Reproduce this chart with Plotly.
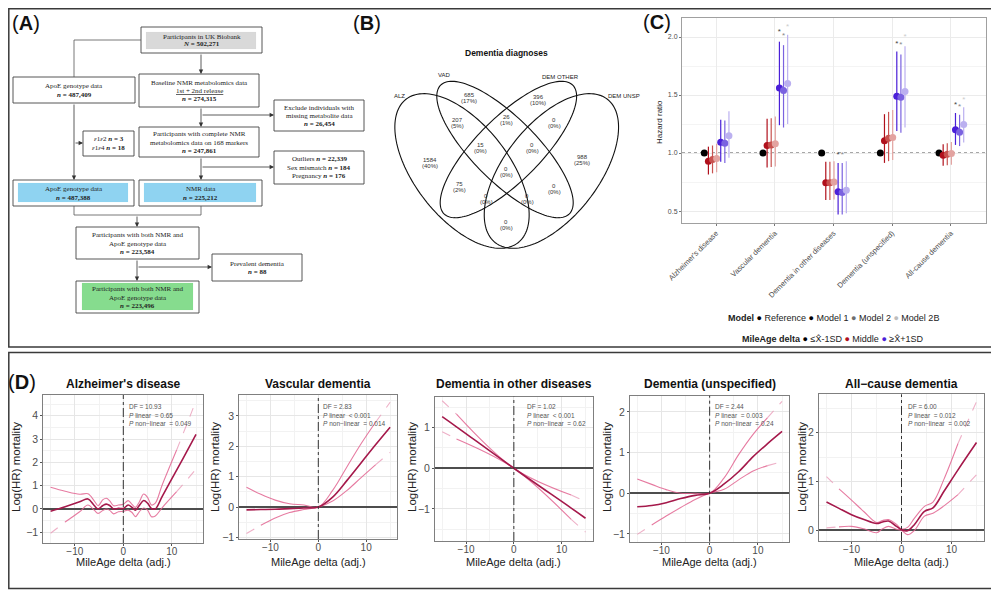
import numpy as np
import plotly.graph_objects as go

W, H = 999, 590

# ======================= DATA =======================
# ---- Panel A: flowchart ----
flow_labels = [
    ["Participants in UK Biobank"],
    ["ApoE genotype data"],
    ["Baseline NMR metabolomics data", "<u>1st + 2nd release</u>"],
    ["Exclude individuals with", "missing metabolite data"],
    ["Participants with complete NMR", "metabolomics data on 168 markers"],
    ["ApoE genotype data"],
    ["NMR data"],
    ["Participants with both NMR and", "ApoE genotype data"],
    ["Prevalent dementia"],
    ["Participants with both NMR and", "ApoE genotype data"],
]
flow_counts = ["502,271", "487,409", "274,315", "26,454", "247,861",
               "487,388", "225,212", "223,584", "88", "223,496"]
apoe_excl_labels = ["<i>ε</i>1<i>ε</i>2", "<i>ε</i>1<i>ε</i>4"]
apoe_excl_counts = ["3", "18"]
qc_labels = ["Outliers", "Sex mismatch", "Pregnancy"]
qc_counts = ["22,339", "184", "176"]

# ---- Panel B: Venn ----
venn_title = "Dementia diagnoses"
venn_sets = ["ALZ", "VAD", "DEM OTHER", "DEM UNSP"]
venn_counts = [685, 396, 207, 26, 0, 1584, 15, 0, 988, 0, 75, 0, 0, 0, 0]
venn_pct = ["17%", "10%", "5%", "1%", "0%", "40%", "0%", "0%", "25%", "0%",
            "2%", "0%", "0%", "0%", "0%"]

# ---- Panel C: hazard ratios ----
outcomes = ["Alzheimer's disease", "Vascular dementia", "Dementia in other diseases",
            "Dementia (unspecified)", "All-cause dementia"]
ref_hr = [1.0, 1.0, 1.0, 1.0, 1.0]
mid_hr_m1 = [0.93, 1.065, 0.745, 1.107, 0.98]
mid_lo_m1 = [0.815, 0.875, 0.595, 0.915, 0.89]
mid_hi_m1 = [1.055, 1.295, 0.925, 1.335, 1.075]
mid_hr_m2 = [0.944, 1.07, 0.745, 1.127, 0.99]
mid_lo_m2 = [0.825, 0.88, 0.595, 0.93, 0.895]
mid_hi_m2 = [1.065, 1.30, 0.925, 1.355, 1.085]
mid_hr_m2b = [0.952, 1.08, 0.75, 1.135, 0.995]
mid_lo_m2b = [0.835, 0.885, 0.60, 0.94, 0.90]
mid_hi_m2b = [1.08, 1.315, 0.93, 1.37, 1.095]
high_hr_m1 = [1.093, 1.56, 0.667, 1.49, 1.20]
high_lo_m1 = [0.924, 1.24, 0.47, 1.19, 1.07]
high_hi_m1 = [1.288, 1.96, 0.915, 1.876, 1.345]
high_hr_m2 = [1.085, 1.54, 0.66, 1.48, 1.18]
high_lo_m2 = [0.915, 1.22, 0.47, 1.175, 1.06]
high_hi_m2 = [1.28, 1.93, 0.915, 1.85, 1.33]
high_hr_m2b = [1.15, 1.60, 0.68, 1.53, 1.245]
high_lo_m2b = [0.96, 1.25, 0.48, 1.22, 1.09]
high_hi_m2b = [1.36, 2.02, 0.93, 1.92, 1.395]
high_star_m1 = [None, 2.04, 0.985, 1.94, 1.415]
high_star_m2 = [None, 2.01, 0.985, 1.93, 1.40]
high_star_m2b = [None, 2.09, None, 2.00, 1.46]

# ---- Panel D: spline curves (log HR vs MileAge delta) ----
alz_x = [-15, -12, -9, -7.3, -6, -5.2, -4.2, -3.5, -2.8, -2, -1, 0, 1, 1.8, 2.5, 3.3, 4.2, 5, 5.8, 6.6, 8, 11, 13, 15]
alz_mean = [-0.1, 0.1, 0.31, 0.43, 0.15, 0.0, 0.15, 0.21, 0.15, 0.0, 0.03, 0.02, 0.17, 0.07, -0.05, 0.15, 0.36, 0.25, 0.02, 0.0, 0.53, 1.67, 2.43, 3.2]
alz_upper = [0.93, 0.76, 0.63, 0.65, 0.35, 0.14, 0.4, 0.46, 0.35, 0.14, 0.17, 0.2, 0.36, 0.2, 0.07, 0.3, 0.64, 0.5, 0.17, 0.25, 1.02, 2.53, 3.58, 4.64]
alz_lower = [-1.04, -0.56, -0.12, 0.17, -0.05, -0.19, -0.06, 0.0, -0.06, -0.21, -0.12, -0.1, -0.05, -0.15, -0.33, -0.12, 0.04, -0.05, -0.33, -0.3, 0.05, 0.74, 1.22, 1.71]

vad_x = [-15, -12, -9, -6, -3, 0, 3, 6, 9, 12, 15]
vad_mean = [-0.09, -0.08, -0.07, -0.05, -0.03, 0.0, 0.33, 0.88, 1.47, 2.06, 2.63]
vad_upper = [0.65, 0.42, 0.23, 0.11, 0.07, 0.0, 0.55, 1.33, 2.10, 2.80, 3.45]
vad_lower = [-0.87, -0.60, -0.36, -0.18, -0.08, 0.0, 0.20, 0.55, 0.98, 1.40, 1.80]

oth_x = [-15, -12, 0, 12, 15]
oth_mean = [1.27, 1.02, 0.0, -0.98, -1.23]
oth_upper = [1.66, 1.33, 0.0, -0.66, -0.82]
oth_lower = [0.90, 0.72, 0.0, -1.26, -1.57]

uns_x = [-15, -12, -9, -6, -3, 0, 3, 6, 9, 12, 15]
uns_mean = [-0.33, -0.30, -0.23, -0.13, -0.05, 0.0, 0.23, 0.53, 0.90, 1.22, 1.52]
uns_upper = [0.35, 0.22, 0.09, 0.0, 0.0, 0.0, 0.38, 0.95, 1.45, 1.86, 2.26]
uns_lower = [-1.01, -0.78, -0.56, -0.35, -0.15, 0.0, 0.10, 0.33, 0.55, 0.68, 0.78]

all_x = [-15, -12.5, -10, -7.5, -5, -3.8, -2.6, -1, 0, 1.2, 2.6, 4.6, 6.3, 8.5, 11.3, 15]
all_mean = [0.58, 0.45, 0.32, 0.22, 0.14, 0.17, 0.19, 0.08, 0.01, -0.01, 0.12, 0.39, 0.46, 0.80, 1.24, 1.80]
all_upper = [1.10, 0.85, 0.62, 0.38, 0.16, 0.20, 0.22, 0.12, 0.03, 0.06, 0.25, 0.49, 0.58, 1.05, 1.78, 2.64]
all_lower = [0.05, 0.07, 0.08, 0.03, -0.05, 0.03, 0.08, 0.02, 0.0, -0.09, 0.0, 0.29, 0.35, 0.50, 0.73, 1.14]

d_titles = ["Alzheimer's disease", "Vascular dementia", "Dementia in other diseases",
            "Dementia (unspecified)", "All\u2212cause dementia"]
d_df = ["10.93", "2.83", "1.02", "2.44", "6.00"]
d_plin = ["= 0.65", "< 0.001", "< 0.001", "= 0.003", "= 0.012"]
d_pnl = ["= 0.049", "= 0.014", "= 0.62", "= 0.24", "= 0.002"]
d_xticks = [-10, 0, 10]

# ======================= HELPERS =======================
# the page body adds an 8px offset, so positions are planned in screen pixels
OFF = 8.0


def px(x):
    return (x - OFF) / W


def py(y):
    return 1 - (y - OFF) / H


SANS = "Liberation Sans, Arial, sans-serif"
SERIF = "Liberation Serif, Times New Roman, serif"

fig = go.Figure()
shapes = []
annotations = []


def note(text, x, y, size, color="#222", family=SANS, xanchor="center", yanchor="middle", angle=0):
    annotations.append(dict(x=px(x), y=py(y), xref="paper", yref="paper", text=text,
                            showarrow=False, xanchor=xanchor, yanchor=yanchor, textangle=angle,
                            font=dict(size=size, family=family, color=color)))


def text_lines(lines, cx, cy, size, lh, family=SANS, color="#222", xanchor="center"):
    n = len(lines)
    for i, t in enumerate(lines):
        note(t, cx, cy + (i - (n - 1) / 2) * lh, size, color=color, family=family, xanchor=xanchor)


def rect(x0, y0, x1, y1, line="#333", width=1, fill="rgba(0,0,0,0)"):
    shapes.append(dict(type="rect", xref="paper", yref="paper",
                       x0=px(x0), x1=px(x1), y0=py(y1), y1=py(y0),
                       line=dict(color=line, width=width), fillcolor=fill, layer="below"))


def seg(x0, y0, x1, y1, color="#555", width=0.8):
    shapes.append(dict(type="line", xref="paper", yref="paper",
                       x0=px(x0), x1=px(x1), y0=py(y0), y1=py(y1),
                       line=dict(color=color, width=width)))


def arrow(x0, y0, x1, y1):
    annotations.append(dict(x=px(x1), y=py(y1), xref="paper", yref="paper",
                            ax=x0 - x1, ay=y0 - y1, axref="pixel", ayref="pixel",
                            text="", showarrow=True, arrowhead=2, arrowsize=1.1,
                            arrowwidth=0.8, arrowcolor="#333", standoff=0))


# ======================= FRAMES & PANEL LABELS =======================
EDGE = OFF + 0.8
rect(EDGE, EDGE, 997.5, 347, line="#3a3a3a", width=1.5)
rect(EDGE, 352.5, 997.5, 588.5, line="#3a3a3a", width=1.5)
for lab, (lx, ly) in zip(["A", "B", "C", "D"], [(26, 23), (367, 23), (657, 22), (22, 382)]):
    note("(<b>%s</b>)" % lab, lx, ly, 20, color="#111")

# ======================= PANEL A =======================
flow_boxes = [(141, 27, 262, 53), (13, 77, 135, 103), (139, 74, 259, 107), (274, 100, 364, 131),
              (139, 127, 259, 157), (13, 180, 134, 206), (139, 180, 262, 206), (76, 227, 199, 259),
              (212, 254, 302, 281), (76, 281, 199, 313)]
flow_inner = {0: ((146, 32, 256, 49), "#d9d9d9"), 5: ((18, 183, 128, 202), "#8fd3f1"),
              6: ((144, 183, 256, 202), "#8fd3f1"), 9: ((82, 283, 193, 310), "#86dc8e")}
for i, (bx0, by0, bx1, by1) in enumerate(flow_boxes):
    rect(bx0, by0, bx1, by1, line="#444", width=0.9, fill="white")
    if i in flow_inner:
        (ix0, iy0, ix1, iy1), col = flow_inner[i]
        rect(ix0, iy0, ix1, iy1, line=col, width=0.1, fill=col)
    nsym = "N" if i == 0 else "n"
    lines = flow_labels[i] + ["<b><i>%s</i> = %s</b>" % (nsym, flow_counts[i])]
    lh = 6.7 if i == 0 else 8.3
    text_lines(lines, (bx0 + bx1) / 2, (by0 + by1) / 2 + 0.5, 7, lh, family=SERIF)

rect(83, 131, 134, 156, line="#444", width=0.9, fill="white")
text_lines(["%s <b><i>n</i> = %s</b>" % (l, c) for l, c in zip(apoe_excl_labels, apoe_excl_counts)],
           108.5, 143.5, 7, 8.3, family=SERIF)
rect(274, 151, 364, 184, line="#444", width=0.9, fill="white")
text_lines(["%s <b><i>n</i> = %s</b>" % (l, c) for l, c in zip(qc_labels, qc_counts)],
           319, 167.5, 7, 8.6, family=SERIF)

seg(141, 40, 74, 40)
seg(74, 40, 74, 77)
arrow(201, 53, 201, 74)
arrow(201, 107, 201, 127)
arrow(201, 115, 274, 115)
arrow(201, 157, 201, 180)
arrow(201, 167, 274, 167)
arrow(74, 103, 74, 180)
arrow(74, 143, 83, 143)
seg(74, 206, 74, 215)
seg(201, 206, 201, 215)
seg(74, 215, 201, 215)
arrow(137, 215, 137, 227)
arrow(137, 259, 137, 281)
arrow(137, 267, 212, 267)

# ======================= PANEL B =======================
note("<b>%s</b>" % venn_title, 506, 53, 8.5, color="#111")
venn_ellipses = [(462, 171, 91, 47, 52), (505, 149.5, 91, 32, 45),
                 (508.4, 149.5, 91, 32, 135), (551.4, 171, 91, 47, 128)]
for cx, cy, a, b, angd in venn_ellipses:
    t = np.linspace(0, 2 * np.pi, 145)
    ang = np.radians(angd)
    xs = cx + a * np.cos(t) * np.cos(ang) - b * np.sin(t) * np.sin(ang)
    ys = cy + a * np.cos(t) * np.sin(ang) + b * np.sin(t) * np.cos(ang)
    path = "M " + " L ".join("%.5f,%.5f" % (px(x), py(y)) for x, y in zip(xs, ys)) + " Z"
    shapes.append(dict(type="path", path=path, xref="paper", yref="paper",
                       line=dict(color="#111", width=1.1)))
venn_set_pos = [(399, 96), (444, 75), (560, 77), (624, 96)]
for s, (sx, sy) in zip(venn_sets, venn_set_pos):
    note(s, sx, sy, 6, color="#222")
venn_pos = [(469, 98), (538, 100), (457, 123), (506, 120), (554, 123), (430, 163), (480, 148),
            (532, 148), (582, 160), (506, 172), (459, 187), (554, 189), (486, 199), (527, 199), (506, 225)]
for c, p, (vx, vy) in zip(venn_counts, venn_pct, venn_pos):
    text_lines([str(c), "(%s)" % p], vx, vy, 6, 6.3, color="#333")

# ======================= PANEL C =======================
cat_pos = np.arange(1, len(outcomes) + 1)
mid_cols = ["#b0101c", "#c8524f", "#e3a3a0"]
high_cols = ["#4a1fd8", "#7a62e0", "#bbb0f0"]
star_cols = ["#444444", "#888888", "#cccccc"]


def hr_trace(off, hr, lo, hi, col):
    hr = np.array(hr); lo = np.array(lo); hi = np.array(hi)
    fig.add_trace(go.Scatter(
        x=cat_pos + off, y=hr, mode="markers", marker=dict(size=7, color=col),
        error_y=dict(type="data", symmetric=False, array=hi - hr, arrayminus=hr - lo,
                     color=col, thickness=1.2, width=0),
        xaxis="x", yaxis="y", showlegend=False, hoverinfo="skip"))


fig.add_trace(go.Scatter(x=cat_pos - 0.2, y=ref_hr, mode="markers",
                         marker=dict(size=7, color="#000"), xaxis="x", yaxis="y",
                         showlegend=False, hoverinfo="skip"))
mid_sets = [(mid_hr_m1, mid_lo_m1, mid_hi_m1), (mid_hr_m2, mid_lo_m2, mid_hi_m2), (mid_hr_m2b, mid_lo_m2b, mid_hi_m2b)]
high_sets = [(high_hr_m1, high_lo_m1, high_hi_m1), (high_hr_m2, high_lo_m2, high_hi_m2), (high_hr_m2b, high_lo_m2b, high_hi_m2b)]
mid_off = [-0.13, -0.06, 0.01]
high_off = [0.08, 0.15, 0.22]
for k in range(3):
    hr_trace(mid_off[k], *mid_sets[k], mid_cols[k])
for k in range(3):
    hr_trace(high_off[k], *high_sets[k], high_cols[k])
for k, st in enumerate([high_star_m1, high_star_m2, high_star_m2b]):
    fig.add_trace(go.Scatter(x=cat_pos + high_off[k], y=st, mode="text", text=["*"] * len(st),
                             textfont=dict(size=8, color=star_cols[k], family=SANS),
                             xaxis="x", yaxis="y", showlegend=False, hoverinfo="skip"))

shapes.append(dict(type="line", xref="x domain", yref="y", x0=0, x1=1, y0=1, y1=1,
                   line=dict(color="#444", width=1, dash="dot"), layer="below"))
note("Hazard ratio", 659, 122, 8, color="#222", angle=-90)
dot = "\u25cf"
nb = "\u00a0"
leg1 = ("<b>Model</b>" + nb + "<span style='color:#000'>" + dot + "</span>" + nb + "Reference" + nb +
        "<span style='color:#000'>" + dot + "</span>" + nb + "Model 1" + nb +
        "<span style='color:#6e6e6e'>" + dot + "</span>" + nb + "Model 2" + nb +
        "<span style='color:#bdbdbd'>" + dot + "</span>" + nb + "Model 2B")
leg2 = ("<b>MileAge delta</b>" + nb + "<span style='color:#000'>" + dot + "</span>" + nb + "\u2264X\u0302-1SD" + nb +
        "<span style='color:%s'>" % mid_cols[0] + dot + "</span>" + nb + "Middle" + nb +
        "<span style='color:%s'>" % high_cols[0] + dot + "</span>" + nb + "\u2265X\u0302+1SD")
note(leg1, 833, 318, 9)
note(leg2, 833, 339, 9)

# ======================= PANEL D =======================
d_x = [alz_x, vad_x, oth_x, uns_x, all_x]
d_mean = [alz_mean, vad_mean, oth_mean, uns_mean, all_mean]
d_upper = [alz_upper, vad_upper, oth_upper, uns_upper, all_upper]
d_lower = [alz_lower, vad_lower, oth_lower, uns_lower, all_lower]
d_dom_x = [(43.3, 203.3), (239.3, 397.3), (435, 592.7), (630, 789.3), (819, 984)]
d_dom_y = [(395, 543), (395, 539), (396.7, 541), (395.7, 541.7), (394.3, 541)]
d_yrange = [(-1.46, 4.89), (-1.05, 3.69), (-1.79, 1.76), (-1.19, 2.40), (-0.22, 2.79)]
d_yticks = [[-1, 0, 1, 2, 3, 4], [-1, 0, 1, 2, 3], [-1, 0, 1], [-1, 0, 1, 2], [0, 1, 2]]
d_dash_upper = [(None, 11), (None, 12), (-12, 12), (None, 12), (-12.5, 11.3)]
d_dash_lower = [(-12, 11), (-12, 12), (-12, 12), (-12, 12), (-12.5, 11.3)]
d_ylab_x = [16, 215, 412, 607, 802]
d_stat_x = [126.7, 320.7, 525, 713.3, 905.7]

MEAN_COL = "rgb(165,25,75)"
CI_COL = "rgba(226,100,145,0.85)"
CI_DASH_COL = "rgba(232,150,180,0.75)"


def split_curve(x, y, left, right):
    x = np.array(x, dtype=float); y = np.array(y, dtype=float)
    out = []
    i0, i1 = 0, len(x) - 1
    if left is not None:
        i0 = int(np.argmin(np.abs(x - left)))
        out.append((x[:i0 + 1], y[:i0 + 1], True))
    if right is not None:
        i1 = int(np.argmin(np.abs(x - right)))
    out.append((x[i0:i1 + 1], y[i0:i1 + 1], False))
    if right is not None:
        out.append((x[i1:], y[i1:], True))
    return out


layout_axes = {}
for k in range(5):
    xa = "x%d" % (k + 2)
    ya = "y%d" % (k + 2)
    for arr, (lft, rgt) in [(d_upper[k], d_dash_upper[k]), (d_lower[k], d_dash_lower[k])]:
        for sx, sy, dashed in split_curve(d_x[k], arr, lft, rgt):
            fig.add_trace(go.Scatter(
                x=sx, y=sy, mode="lines",
                line=dict(color=CI_DASH_COL if dashed else CI_COL, width=1.1,
                          dash="dash" if dashed else "solid", shape="spline", smoothing=1.0),
                xaxis=xa, yaxis=ya, showlegend=False, hoverinfo="skip"))
    fig.add_trace(go.Scatter(x=d_x[k], y=d_mean[k], mode="lines",
                             line=dict(color=MEAN_COL, width=1.6, shape="spline", smoothing=1.0),
                             xaxis=xa, yaxis=ya, showlegend=False, hoverinfo="skip"))
    (dx0, dx1), (dy0, dy1) = d_dom_x[k], d_dom_y[k]
    layout_axes["xaxis%d" % (k + 2)] = dict(
        domain=[px(dx0), px(dx1)], anchor=ya, range=[-16.5, 16.5], tickvals=d_xticks,
        showgrid=True, gridcolor="#e6e6e6", gridwidth=0.8, zeroline=False, automargin=False,
        minor=dict(tickvals=[-15, -5, 5, 15], showgrid=True, gridcolor="#f2f2f2", gridwidth=0.5),
        showline=True, mirror=True, linecolor="#7f7f7f", linewidth=1,
        ticks="outside", ticklen=2, tickcolor="#555", ticklabelstandoff=-3,
        tickfont=dict(size=10, color="#4d4d4d", family=SANS))
    layout_axes["yaxis%d" % (k + 2)] = dict(
        domain=[py(dy1), py(dy0)], anchor=xa, range=list(d_yrange[k]), tickvals=d_yticks[k],
        showgrid=True, gridcolor="#e6e6e6", gridwidth=0.8, automargin=False,
        minor=dict(dtick=0.5, showgrid=True, gridcolor="#f2f2f2", gridwidth=0.5),
        zeroline=True, zerolinecolor="#4d4d4d", zerolinewidth=1.6,
        showline=True, mirror=True, linecolor="#7f7f7f", linewidth=1,
        ticks="outside", ticklen=2, tickcolor="#555",
        tickfont=dict(size=10.5, color="#4d4d4d", family=SANS))
    shapes.append(dict(type="line", xref=xa, yref="%s domain" % ya, x0=0, x1=0, y0=0, y1=1,
                       line=dict(color="#333", width=1, dash="dashdot")))
    cxm = (dx0 + dx1) / 2
    note("<b>%s</b>" % d_titles[k], cxm, 384, 12, color="#111")
    note("MileAge delta (adj.)", cxm, 562, 11, color="#222")
    note("Log(HR) mortality", d_ylab_x[k], 467, 11.5, color="#222", angle=-90)
    stats = ["DF = %s" % d_df[k], "<i>P</i> linear  %s" % d_plin[k], "<i>P</i> non\u2212linear  %s" % d_pnl[k]]
    for j, s in enumerate(stats):
        note(s, d_stat_x[k], 406.7 + 8.3 * j, 6.5, color="#555", xanchor="left")

# ======================= LAYOUT =======================
fig.update_layout(
    width=W, height=H, margin=dict(l=0, r=0, t=0, b=0, pad=0, autoexpand=False),
    paper_bgcolor="white", plot_bgcolor="white", showlegend=False,
    font=dict(family=SANS),
    xaxis=dict(domain=[px(682), px(986)], anchor="y", range=[0.42, 5.6], tickvals=list(cat_pos),
               ticktext=outcomes, tickangle=-45, showgrid=True, gridcolor="#ebebeb", gridwidth=0.8,
               zeroline=False, showline=True, mirror=True, linecolor="#a0a0a0", linewidth=1,
               ticks="outside", ticklen=2, tickcolor="#777", automargin=False,
               tickfont=dict(size=7.5, color="#4d4d4d", family=SANS)),
    yaxis=dict(domain=[py(223), py(18)], anchor="x", range=[0.397, 2.164],
               tickvals=[0.5, 1.0, 1.5, 2.0], ticktext=["0.5", "1.0", "1.5", "2.0"],
               showgrid=True, gridcolor="#ebebeb", gridwidth=0.8, automargin=False,
               minor=dict(tickvals=[0.75, 1.25, 1.75], showgrid=True, gridcolor="#f4f4f4", gridwidth=0.5),
               zeroline=False, showline=True, mirror=True, linecolor="#a0a0a0", linewidth=1,
               ticks="outside", ticklen=2, tickcolor="#777",
               tickfont=dict(size=7, color="#4d4d4d", family=SANS)),
    shapes=shapes, annotations=annotations,
    **layout_axes,
)

fig.write_html("out.html")
